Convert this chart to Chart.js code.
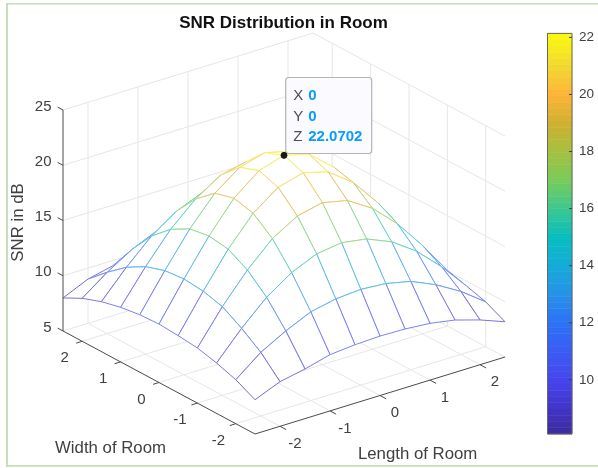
<!DOCTYPE html>
<html><head><meta charset="utf-8">
<style>html,body{margin:0;padding:0;background:#fff}canvas{display:block}</style>
<script src="https://cdn.jsdelivr.net/npm/chart.js@4/dist/chart.umd.min.js"></script>
</head><body><canvas id="c" width="598" height="468"></canvas>
<script>
const xValues=[-2.5,-2,-1.5,-1,-0.5,0,0.5,1,1.5,2,2.5];
const yValues=[-2.5,-2,-1.5,-1,-0.5,0,0.5,1,1.5,2,2.5];
const snrRows=[
[8.10,9.04,9.49,10.09,10.29,10.38,10.32,10.14,9.74,9.05,8.19],
[8.98,10.76,12.00,13.03,13.50,13.67,13.50,13.00,12.00,10.70,9.05],
[9.56,12.00,14.11,15.65,16.64,16.96,16.60,15.65,14.10,12.00,9.55],
[9.99,13.03,15.65,17.79,19.14,19.65,19.15,17.75,15.65,13.00,10.05],
[10.17,13.49,16.60,19.15,20.80,21.43,20.80,19.15,16.60,13.50,10.25],
[10.29,13.67,16.86,19.58,21.38,22.0702,21.47,19.60,16.90,13.67,10.33],
[10.20,13.49,16.57,19.10,20.75,21.38,20.80,19.15,16.60,13.50,10.25],
[9.94,12.92,15.60,17.65,19.10,19.60,19.15,17.75,15.65,13.00,10.05],
[9.52,11.93,14.05,15.60,16.55,16.90,16.60,15.65,14.10,12.00,9.55],
[8.89,10.55,11.93,12.92,13.49,13.67,13.50,13.00,12.00,10.70,9.00],
[7.99,9.00,9.52,9.94,10.20,10.30,10.25,10.05,9.55,9.00,8.10]];
const xTicks=[-2,-1,0,1,2];
const yTicks=[-2,-1,0,1,2];
const zTicks=[5,10,15,20,25];
const colorTicks=[10,12,14,16,18,20,22];
const colorMin=8.1,colorMax=22.14;
const tipPoint=[0,0,22.0702];
const chartTitle='SNR Distribution in Room';
const xTitle='Length of Room',yTitle='Width of Room',zTitle='SNR in dB';

const cmapStops=[[8.1,[60,44,156]],[9,[66,52,200]],[10,[70,70,236]],[11,[58,92,245]],[12,[44,114,245]],[13,[40,146,232]],[14,[20,171,216]],[15,[8,190,190]],[16,[60,200,143]],[17,[122,203,90]],[18,[165,192,64]],[19,[208,176,48]],[20,[253,180,58]],[21,[242,216,48]],[22.14,[251,251,16]]];
function cmapRGB(v){
  for(let k=1;k<cmapStops.length;k++){
    if(v<=cmapStops[k][0]){
      const [a,ca]=cmapStops[k-1],[b,cb]=cmapStops[k];
      const t=Math.max(0,(v-a)/(b-a));
      return ca.map((c,n)=>Math.round(c+(cb[n]-c)*t));
    }
  }
  return [251,251,16];
}
function cmap(v){return 'rgb('+cmapRGB(v).join(',')+')';}
// thin mesh lines read paler than the colour bar
function meshColor(v){return 'rgb('+cmapRGB(v).map(c=>Math.round(c+(255-c)*0.3)).join(',')+')';}
// orthographic view of the 3-D axes box
function project(x,y,z){
  return {x:284+50*x-38.4*y, y:344-15.4*x-20.6*y-11.05*(z-5)};
}
function seg(pts,color,width,extra){
  return Object.assign({data:pts,showLine:true,borderColor:color,borderWidth:width||1,pointRadius:0,fill:false,clip:false,xAxisID:'x',yAxisID:'y',tension:0},extra||{});
}
const datasets=[];
const p0=project(tipPoint[0],tipPoint[1],tipPoint[2]);
datasets.push({data:[p0],showLine:false,pointRadius:3,pointBackgroundColor:'#1a1a1a',pointBorderColor:'#1a1a1a',clip:false,xAxisID:'x',yAxisID:'y'});
// colour bar
const cbL=547.5,cbR=572;
const cbFrame=[[cbL,colorMin],[cbR,colorMin],[cbR,colorMax],[cbL,colorMax],[cbL,colorMin]].map(p=>({x:p[0],y:p[1]}));
colorTicks.forEach(v=>datasets.push(seg([{x:cbR-3,y:v},{x:cbR,y:v}],'#404040',1,{yAxisID:'yc'})));
datasets.push(seg(cbFrame,'#666666',1,{yAxisID:'yc'}));
const levels=64;
for(let n=levels-1;n>=0;n--){
  const a=colorMin+(colorMax-colorMin)*n/levels,b=colorMin+(colorMax-colorMin)*(n+1)/levels;
  const col=cmap((a+b)/2);
  datasets.push({data:[{x:cbL,y:a},{x:cbR,y:a},{x:cbR,y:b},{x:cbL,y:b},{x:cbL,y:a}],showLine:true,fill:'shape',backgroundColor:col,borderColor:col,borderWidth:0.6,pointRadius:0,clip:false,xAxisID:'x',yAxisID:'yc'});
}
// axis lines and ticks
const dark='#4a4a4a';
datasets.push(seg([project(-2.5,2.5,5),project(-2.5,2.5,25)],dark));
datasets.push(seg([project(-2.5,2.5,5),project(-2.5,-2.5,5)],dark));
datasets.push(seg([project(-2.5,-2.5,5),project(2.5,-2.5,5)],dark));
zTicks.forEach(z=>datasets.push(seg([project(-2.5,2.5,z),project(-2.5,2.64,z)],dark)));
yTicks.forEach(y=>datasets.push(seg([project(-2.5,y,5),project(-2.62,y,5)],dark)));
xTicks.forEach(x=>datasets.push(seg([project(x,-2.5,5),project(x,-2.66,5)],dark)));
// mesh: cells, nearest first so the nearest is painted last; an outline then its white face
const cells=[];
for(let j=0;j<10;j++)for(let i=0;i<10;i++)cells.push([i,j]);
cells.sort((a,b)=>(a[0]+a[1])-(b[0]+b[1]));
cells.forEach(([i,j])=>{
  const P=(ii,jj)=>project(xValues[ii],yValues[jj],snrRows[jj][ii]);
  const C=(ii,jj)=>meshColor(snrRows[jj][ii]);
  const edge=[C(i,j),C(i+1,j),C(i,j+1),C(i,j)];
  const pts=[P(i,j),P(i+1,j),P(i+1,j+1),P(i,j+1),P(i,j)];
  datasets.push({data:pts,showLine:true,fill:false,borderColor:edge[0],borderWidth:1,pointRadius:0,clip:false,xAxisID:'x',yAxisID:'y',
    segment:{borderColor:ctx=>edge[ctx.p0DataIndex]}});
  datasets.push({data:pts,showLine:true,fill:'shape',backgroundColor:'#ffffff',borderColor:'rgba(0,0,0,0)',borderWidth:0,pointRadius:0,clip:false,xAxisID:'x',yAxisID:'y'});
});
// grid on the walls and floor
const gridCol='#e6e6e6';
zTicks.forEach(z=>{
  datasets.push(seg([project(-2.5,2.5,z),project(2.5,2.5,z)],gridCol));
  datasets.push(seg([project(2.5,2.5,z),project(2.5,-2.5,z)],gridCol));
});
xTicks.forEach(x=>{
  datasets.push(seg([project(x,-2.5,5),project(x,2.5,5)],gridCol));
  datasets.push(seg([project(x,2.5,5),project(x,2.5,25)],gridCol));
});
yTicks.forEach(y=>{
  datasets.push(seg([project(-2.5,y,5),project(2.5,y,5)],gridCol));
  datasets.push(seg([project(2.5,y,5),project(2.5,y,25)],gridCol));
});

const FONT='"Liberation Sans",Arial,sans-serif';
const textColor='#404040';
function px(chart,x,y){return {x:chart.scales.x.getPixelForValue(x),y:chart.scales.y.getPixelForValue(y)};}
const frame={id:'frame',
  afterLayout(chart){
    const t=chart.titleBlock;
    if(t){const w=t.right-t.left;t.left=283.5-w/2;t.right=283.5+w/2;}
  },
  beforeDraw(chart){
    const c=chart.ctx;c.save();c.fillStyle='#c5e0b4';
    c.fillRect(6,3,592,1.6);c.fillRect(6,3,2,464);c.fillRect(6,465,592,1.8);
    c.restore();
  }};
const dataTip={id:'dataTip',beforeDatasetDraw(chart,args){
  if(args.index!==0)return;
  const c=chart.ctx;c.save();
  const a=px(chart,285.7,77.5);
  c.beginPath();c.roundRect(a.x,a.y,86,76,3);
  c.fillStyle='#fafaff';c.fill();c.strokeStyle='#b4b4b4';c.lineWidth=1.2;c.stroke();
  const rows=[['X',tipPoint[0]],['Y',tipPoint[1]],['Z',tipPoint[2]]];
  const ys=[96,116.6,136.6];
  c.textBaseline='middle';c.textAlign='left';
  rows.forEach((r,k)=>{
    c.font='15px '+FONT;c.fillStyle='#4d4d4d';c.fillText(r[0],a.x+7.5,ys[k]);
    c.font='bold 15px '+FONT;c.fillStyle='#0a9bff';c.fillText(String(r[1]),a.x+22.5,ys[k]);
  });
  c.restore();
}};
const labels={id:'labels',afterDatasetsDraw(chart){
  const c=chart.ctx;c.save();c.fillStyle=textColor;c.textBaseline='middle';
  c.font='15px '+FONT;
  c.textAlign='right';
  zTicks.forEach(z=>{const p=project(-2.5,2.5,z);const q=px(chart,p.x-11.5,p.y-3.5);c.fillText(String(z),q.x,q.y);});
  c.textAlign='center';
  yTicks.forEach(y=>{const p=project(-2.5,y,5);const q=px(chart,p.x-17.5,p.y+17);c.fillText(String(y),q.x,q.y);});
  xTicks.forEach(x=>{const p=project(x,-2.5,5);const q=px(chart,p.x+15,p.y+17.5);c.fillText(String(x),q.x,q.y);});
  c.font='16.8px '+FONT;
  c.fillText(xTitle,417.6,454);
  c.fillText(yTitle,110.5,448);
  c.translate(18,222.5);c.rotate(-Math.PI/2);c.fillText(zTitle,0,0);
  c.restore();
}};
const chart=new Chart(document.getElementById('c'),{
  type:'scatter',
  data:{datasets},
  plugins:[frame,dataTip,labels],
  options:{
    responsive:false,animation:false,events:[],
    layout:{padding:{top:0,bottom:34,left:0,right:0}},
    plugins:{
      legend:{display:false},tooltip:{enabled:false},
      title:{display:true,text:chartTitle,fullSize:false,color:'#111111',font:{family:FONT,size:17,weight:'bold'},padding:{top:13,bottom:0},align:'center'}
    },
    scales:{
      x:{type:'linear',display:false,min:0,max:572},
      y:{type:'linear',display:false,min:33,max:434,reverse:true},
      yc:{type:'linear',position:'right',min:colorMin,max:colorMax,
        grid:{display:false,drawTicks:false},border:{display:false},
        afterBuildTicks(s){s.ticks=colorTicks.map(v=>({value:v}));},
        afterFit(s){s.width=26;},
        ticks:{color:textColor,font:{family:FONT,size:13.5},padding:7,autoSkip:false,maxRotation:0,callback:v=>String(v)}}
    }
  }
});
// let the two position scales read in canvas pixels
const area=chart.chartArea;
chart.options.scales.x.min=area.left;chart.options.scales.x.max=area.right;
chart.options.scales.y.min=area.top;chart.options.scales.y.max=area.bottom;
chart.update();
</script></body></html>
